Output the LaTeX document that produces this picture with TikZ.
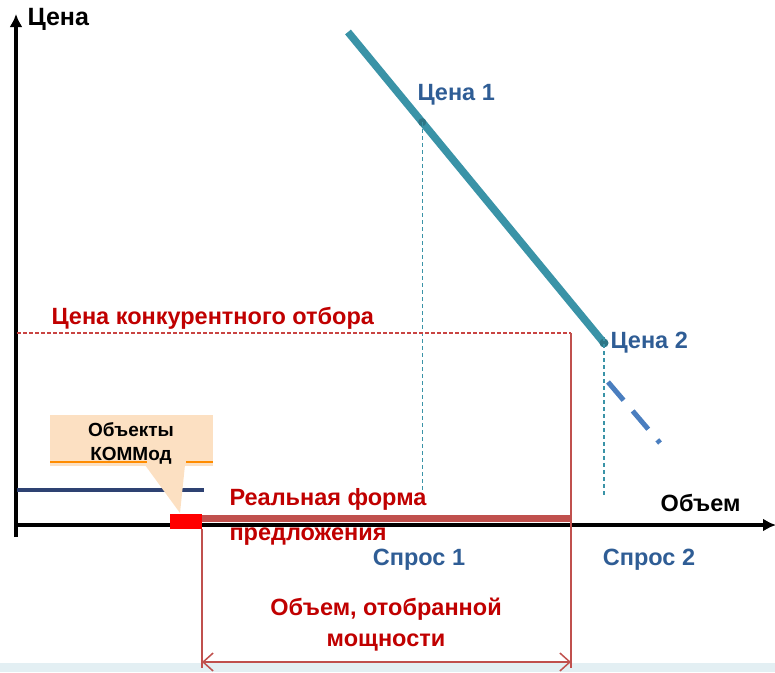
\documentclass[tikz,border=0pt]{standalone}
\usepackage{fontspec}
\setmainfont{Liberation Sans}
\usetikzlibrary{arrows.meta,calc}

\definecolor{redtxt}{HTML}{C00000}
\definecolor{bluetxt}{HTML}{2F5D95}
\definecolor{tealline}{HTML}{3A93A7}
\definecolor{dashblue}{HTML}{4A7EBF}
\definecolor{navyline}{HTML}{2E4272}
\definecolor{barred}{HTML}{C0504D}
\definecolor{peach}{HTML}{FCE0C2}
\definecolor{bandblue}{HTML}{E3EFF3}

\begin{document}
\begin{tikzpicture}[x=1pt,y=-1pt,
    lbl/.style={font=\bfseries\fontsize{23.5}{28}\selectfont},
    axis/.style={line width=3.8pt,black,-{Latex[length=13pt,width=13pt]}},
    guide/.style={tealline,line width=1.2pt,dash pattern=on 4pt off 3pt}]
    \useasboundingbox (0,0) rectangle (775,672);
    \fill[bandblue] (0,663) rectangle (775,672);

    % Axes
    \coordinate (ybot) at (16,537);
    \coordinate (ytop) at (16,14);
    \coordinate (xbeg) at (14,525);
    \coordinate (xend) at (776,525);
    \draw[axis] (ybot) -- (ytop);
    \draw[axis] (xbeg) -- (xend);
    \node[lbl,anchor=west,font=\bfseries\fontsize{25}{28}\selectfont] (cena) at (24,19) {Цена};
    \node[lbl,anchor=east] (obyom) at (744,503) {Объем};

    % Demand line
    \coordinate (d0) at (348,32);
    \coordinate (p2) at (604,343);
    \coordinate (p1) at ($(d0)!0.29!(p2)$);
    \draw[tealline,line width=7.5pt] (d0) -- (p2);
    \coordinate (e0) at (608,382);
    \coordinate (e1) at (660,443);
    \draw[dashblue,line width=5pt,dash pattern=on 24pt off 14pt] (e0) -- (e1);
    \fill[tealline!80!black] (p1) circle (4pt);
    \fill[tealline!80!black] (p2) circle (4.5pt);
    \node[lbl,bluetxt,anchor=west] (cena1) at (414,95) {Цена 1};
    \node[lbl,bluetxt,anchor=west] (cena2) at ([xshift=3pt]p2) {Цена 2};

    % Guides down to demand
    \coordinate (s1) at (p1 |- 0,490);
    \coordinate (s2) at (p2 |- 0,497);
    \draw[guide] (p1) -- (s1);
    \draw[guide] ([yshift=6pt]p2) -- (s2);
    \node[lbl,bluetxt] (spros1) at (419,560) {Спрос 1};
    \node[lbl,bluetxt] (spros2) at (649,560) {Спрос 2};

    % Price of competitive selection
    \coordinate (c0) at (17,333);
    \coordinate (c1) at (571,333);
    \coordinate (c2) at (571,668);
    \draw[barred!85!red,line width=1.3pt,dash pattern=on 4pt off 2pt] (c0) -- (c1);
    \draw[barred,line width=1.5pt] (c1) -- (c2);
    \node[lbl,redtxt,anchor=west] (konk) at (48,318) {Цена конкурентного отбора};

    % Supply
    \coordinate (n0) at (17,490);
    \coordinate (n1) at (204,490);
    \draw[navyline,line width=4pt] (n0) -- (n1);
    \coordinate (b0) at (202,518.5);
    \coordinate (b1) at (571,518.5);
    \draw[barred,line width=7pt] (b0) -- (b1);
    \fill[red] (170,514) rectangle (202,529);
    \node[lbl,redtxt,align=left,anchor=west,
          font=\bfseries\fontsize{23.5}{35}\selectfont] (forma) at (226,517) {Реальная форма\\предложения};

    % Callout
    \fill[peach] (50,415) rectangle (213,466);
    \fill[peach] (145,465) -- (180,513) -- (185,465) -- cycle;
    \draw[orange!90!yellow,line width=1.2pt] (50,462) -- (147,462);
    \draw[orange!90!yellow,line width=1.2pt] (186,462) -- (213,462);
    \node[align=center,font=\bfseries\fontsize{19}{24}\selectfont] (kommod) at (131,443) {Объекты\\КОММод};

    % Selected volume
    \coordinate (v0) at (202,529);
    \coordinate (v1) at (202,668);
    \draw[barred,line width=1.5pt] (v0) -- (v1);
    \coordinate (a0) at (202,662);
    \coordinate (a1) at (571,662);
    \draw[barred,line width=1.5pt,{Straight Barb[length=10pt,width=18pt]}-{Straight Barb[length=10pt,width=18pt]}] (a0) -- (a1);
    \node[lbl,redtxt,align=center,font=\bfseries\fontsize{23.5}{31}\selectfont] (otbor) at (386,625) {Объем, отобранной\\мощности};
\end{tikzpicture}
\end{document}
